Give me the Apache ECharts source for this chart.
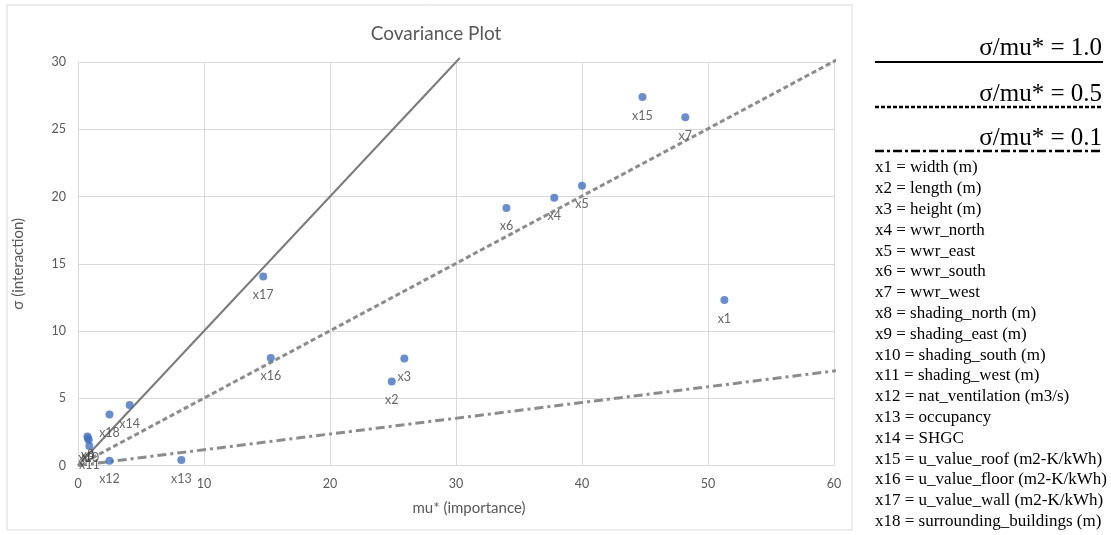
<!DOCTYPE html>
<html><head><meta charset="utf-8">
<script src="https://cdn.jsdelivr.net/npm/echarts@6/dist/echarts.min.js"></script>
<style>html,body{margin:0;padding:0;background:#fff}#c{width:1111px;height:535px}</style>
</head><body><div id="c"></div>
<script>
// ---- data ----
const pointNames = ['x1','x2','x3','x4','x5','x6','x7','x8','x9','x10','x11','x12','x13','x14','x15','x16','x17','x18'];
const muStar = [51.3, 24.9, 25.9, 37.8, 40.0, 34.0, 48.2, 0.75, 0.8, 0.85, 0.9, 2.5, 8.2, 4.1, 44.8, 15.3, 14.7, 2.5];
const sigma  = [12.3, 6.25, 7.95, 19.9, 20.8, 19.15, 25.9, 2.15, 2.0, 1.9, 1.45, 0.35, 0.4, 4.5, 27.4, 8.0, 14.05, 3.8];
const refLabels = ['σ/mu* = 1.0', 'σ/mu* = 0.5', 'σ/mu* = 0.1'];
const refLineX = [[0, 30.3], [0, 60.3], [0, 60.3]];
const refLineY = [[0, 30.3], [0, 30.2], [0, 7.06]];
const varDescriptions = [
  'x1 = width (m)', 'x2 = length (m)', 'x3 = height (m)', 'x4 = wwr_north', 'x5 = wwr_east',
  'x6 = wwr_south', 'x7 = wwr_west', 'x8 = shading_north (m)', 'x9 = shading_east (m)',
  'x10 = shading_south (m)', 'x11 = shading_west (m)', 'x12 = nat_ventilation (m3/s)',
  'x13 = occupancy', 'x14 = SHGC', 'x15 = u_value_roof (m2-K/kWh)', 'x16 = u_value_floor (m2-K/kWh)',
  'x17 = u_value_wall (m2-K/kWh)', 'x18 = surrounding_buildings (m)'
];
const chartTitle = 'Covariance Plot';
const xAxisName = 'mu* (importance)';
const yAxisName = 'σ (interaction)';

// ---- styles ----
const FONT = 'Lato';
const SERIF = '"Liberation Serif", "DejaVu Serif", serif';
const refStyles = [
  {color: '#7a7a7a', width: 2, type: 'solid'},
  {color: '#8c8c8c', width: 3, type: [5, 3]},
  {color: '#8c8c8c', width: 3, type: [9, 4, 3, 4]}
];
const legendLineStyles = [
  {stroke: '#000', lineWidth: 2},
  {stroke: '#000', lineWidth: 2.5, lineDash: [4, 2]},
  {stroke: '#000', lineWidth: 2.5, lineDash: [9, 3, 3, 3]}
];

const chart = echarts.init(document.getElementById('c'), null, {renderer: 'canvas'});

const lineSeries = refLineX.map((xs, i) => ({
  type: 'line',
  data: xs.map((x, j) => [x, refLineY[i][j]]),
  symbol: 'none',
  clip: false,
  silent: true,
  z: 1,
  lineStyle: refStyles[i]
}));

const graphics = [
  {type: 'rect', shape: {x: 7, y: 5, width: 845, height: 525}, style: {fill: 'none', stroke: '#d9d9d9', lineWidth: 1}, z: -10}
];
const legendY = [62, 107, 151];
const legendTextY = [48, 94, 138];
refLabels.forEach((t, i) => {
  graphics.push({type: 'text', x: 1102, y: legendTextY[i], style: {text: t, font: '25px ' + SERIF, fill: '#000', align: 'right', verticalAlign: 'middle'}});
  graphics.push({type: 'line', shape: {x1: 875, y1: legendY[i], x2: 1103, y2: legendY[i]}, style: legendLineStyles[i]});
});
varDescriptions.forEach((t, i) => {
  graphics.push({type: 'text', x: 875, y: 168 + i * 20.8, style: {text: t, font: '17px ' + SERIF, fill: '#000', align: 'left', verticalAlign: 'middle'}});
});

chart.setOption({
  animation: false,
  backgroundColor: '#fff',
  title: {text: chartTitle, left: 431, textAlign: 'center', top: 19, textStyle: {fontFamily: FONT, fontSize: 19, fontWeight: 'normal', color: '#595959'}},
  grid: {left: 78, right: 277, top: 62, bottom: 69.5, containLabel: false},
  xAxis: {
    type: 'value', min: 0, max: 60, interval: 10,
    name: xAxisName, nameLocation: 'middle', nameGap: 35,
    nameTextStyle: {fontFamily: FONT, fontSize: 15, color: '#595959', padding: [0, 0, 0, 26]},
    axisLine: {show: true, lineStyle: {color: '#d9d9d9'}},
    axisTick: {show: false},
    axisLabel: {fontFamily: FONT, fontSize: 12.5, color: '#595959', margin: 12},
    splitLine: {show: true, lineStyle: {color: '#d9d9d9'}}
  },
  yAxis: {
    type: 'value', min: 0, max: 30, interval: 5,
    name: yAxisName, nameLocation: 'middle', nameGap: 52,
    nameTextStyle: {fontFamily: FONT, fontSize: 15, color: '#595959'},
    axisLine: {show: true, lineStyle: {color: '#d9d9d9'}},
    axisTick: {show: false},
    axisLabel: {fontFamily: FONT, fontSize: 12.5, color: '#595959', margin: 12},
    splitLine: {show: true, lineStyle: {color: '#d9d9d9'}}
  },
  series: lineSeries.concat([{
    type: 'scatter',
    z: 5,
    symbolSize: 8,
    itemStyle: {color: '#4472C4'},
    data: muStar.map((x, i) => ({name: pointNames[i], value: [x, sigma[i]]})),
    label: {show: true, position: 'bottom', distance: 8, formatter: '{b}', fontFamily: FONT, fontSize: 12.5, color: '#404040'},
    labelLayout: {hideOverlap: false}
  }]),
  graphic: graphics
});
</script>
</body></html>
